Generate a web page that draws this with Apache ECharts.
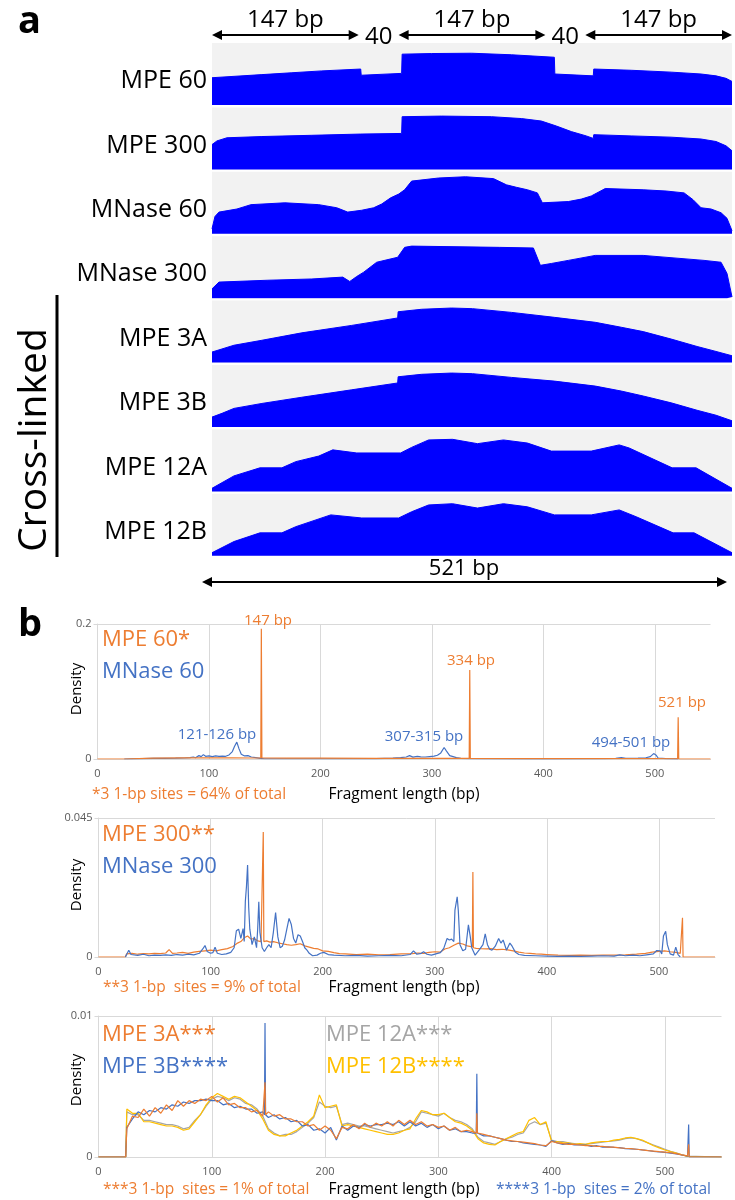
<!DOCTYPE html>
<html>
<head>
<meta charset="utf-8">
<script src="https://cdn.jsdelivr.net/npm/echarts@6/dist/echarts.min.js"></script>
<style>
  html, body { margin: 0; padding: 0; background: #fff; }
  #main { width: 735px; height: 1200px; }
</style>
</head>
<body>
<div id="main"></div>
<script>
// ---- panel a: coverage profiles, [bp, % of track height] ----
var trackNames = ['MPE 60', 'MPE 300', 'MNase 60', 'MNase 300', 'MPE 3A', 'MPE 3B', 'MPE 12A', 'MPE 12B']

var mpe60Track = [[0,44],[20,46],[50,49],[80,52],[110,55],[149,58],[149.5,48],[190,51],[190.5,82],[220,83],[260,83.5],[300,81],[343,77],[343.5,50],[382,47],[382.5,58],[420,56],[460,53],[490,50],[505,47],[515,43],[521,38]]
var mpe300Track = [[0,40],[5,46],[15,51],[50,53],[100,55],[149,57],[149.5,54],[190,58],[190.5,85],[230,86],[280,85],[310,82],[330,78],[345,70],[360,61],[375,54],[382,50],[382.5,56],[420,54],[460,52],[490,49],[505,45],[515,38],[521,30]]
var mnase60Track = [[0,8],[3,28],[7,35],[25,40],[39,47],[73,50],[107,47],[125,42],[136,35],[150,38],[162,42],[170,48],[179,58],[187,64],[193,71],[200,85],[227,90],[254,92],[282,89],[295,79],[305,75],[316,71],[326,66],[331,50],[357,52],[370,56],[380,61],[394,73],[432,71],[455,69],[473,66],[482,55],[490,42],[500,40],[510,34],[516,25],[521,5]]
var mnase300Track = [[0,15],[7,26],[56,29],[100,31],[131,34],[138,27],[145,35],[152,42],[165,58],[186,66],[193,82],[200,84],[288,82],[322,81],[329,53],[340,56],[357,61],[384,69],[432,69],[493,61],[510,58],[516,40],[521,2]]
var mpe3ATrack = [[0,17],[10,22],[22,28],[50,36],[90,48],[140,60],[186,72],[186.5,82],[210,86],[240,88],[261,87],[300,81],[343,73],[384,65],[410,57],[432,50],[460,38],[486,26],[505,18],[521,11]]
var mpe3BTrack = [[0,16],[10,22],[22,30],[50,38],[90,48],[140,60],[186,71],[186.5,81],[210,85],[240,87],[261,86],[300,80],[343,74],[384,66],[410,58],[432,50],[460,39],[486,27],[505,19],[521,10]]
var mpe12ATrack = [[0,5],[22,25],[48,38],[70,38],[84,48],[107,57],[121,67],[145,62],[189,62],[200,71],[217,83],[241,84],[266,77],[292,83],[316,78],[340,65],[380,65],[408,75],[418,70],[461,38],[485,38],[521,5]]
var mpe12BTrack = [[0,5],[22,23],[48,37],[70,37],[84,47],[119,66],[150,61],[187,61],[200,71],[217,82],[241,84],[266,77],[292,84],[316,79],[343,66],[380,66],[408,74],[425,63],[462,37],[483,37],[521,5]]

// nucleosome / linker segments drawn as arrows above the tracks (bp)
var segments = [[0,147,'147 bp'],[187,334,'147 bp'],[374,521,'147 bp']]
var linkers = [[167,'40'],[354,'40']]

// ---- panel b, chart 1: MPE 60 vs MNase 60, [length, density] ----
var mpe60Density = [[0,0],[24,0],[25,0.0012],[50,0.0014],[80,0.0016],[100,0.0017],[120,0.0016],[140,0.0015],[146.5,0.0015],[147,0.193],[147.5,0.0015],[170,0.0012],[200,0.0012],[250,0.0010],[300,0.0008],[333.5,0.0008],[334,0.132],[334.5,0.0008],[380,0.0006],[450,0.0005],[500,0.0005],[520.5,0.0004],[521,0.062],[521.5,0],[550,0]]
var mnase60Density = [[24,0],[25,0.0004],[40,0.0006],[50,0.0008],[60,0.0010],[70,0.0012],[78,0.0015],[83,0.0020],[86,0.0030],[88,0.0018],[91,0.0050],[93,0.0035],[95,0.0065],[97,0.0040],[100,0.0045],[103,0.0035],[106,0.0045],[109,0.0038],[112,0.0044],[115,0.0040],[118,0.0060],[121,0.0110],[123,0.0190],[125,0.0250],[127,0.0150],[129,0.0070],[132,0.0045],[135,0.0050],[138,0.0030],[142,0.0020],[146,0.0008],[150,0.0004],[200,0.0004],[250,0.0005],[265,0.0012],[272,0.0020],[277,0.0030],[280,0.0050],[283,0.0028],[287,0.0040],[290,0.0032],[294,0.0030],[298,0.0036],[302,0.0042],[305,0.0055],[308,0.0090],[311,0.0170],[313,0.0120],[316,0.0050],[319,0.0035],[322,0.0020],[326,0.0008],[335,0.0004],[400,0.0003],[455,0.0006],[465,0.0010],[470,0.0022],[474,0.0010],[485,0.0012],[492,0.0018],[496,0.0035],[499,0.0080],[501,0.0060],[503,0.0015],[510,0.0006],[520,0.0002],[521,0]]

// ---- panel b, chart 2: MPE 300 vs MNase 300 ----
var mpe300Density = [[0,0],[24,0],[25,0.0010],[30,0.0012],[35,0.0009],[40,0.0011],[45,0.0010],[50,0.0012],[55,0.0011],[60,0.0013],[63,0.0024],[66,0.0012],[70,0.0013],[75,0.0015],[80,0.0012],[85,0.0016],[90,0.0018],[95,0.0020],[100,0.0022],[105,0.0020],[110,0.0024],[115,0.0027],[120,0.0034],[124,0.0045],[127,0.0050],[130,0.0062],[133,0.0068],[136,0.0058],[139,0.0060],[142,0.0052],[145,0.0050],[146.5,0.0048],[147,0.0405],[147.5,0.0050],[150,0.0052],[153,0.0048],[156,0.0050],[160,0.0046],[164,0.0043],[168,0.0040],[172,0.0038],[176,0.0040],[180,0.0043],[184,0.0036],[188,0.0032],[192,0.0028],[196,0.0026],[200,0.0020],[205,0.0018],[210,0.0014],[215,0.0011],[220,0.0010],[230,0.0008],[240,0.0009],[250,0.0007],[260,0.0008],[270,0.0010],[280,0.0011],[285,0.0013],[290,0.0012],[295,0.0015],[300,0.0017],[305,0.0016],[309,0.0026],[313,0.0030],[317,0.0038],[321,0.0045],[325,0.0042],[329,0.0036],[333.5,0.0033],[334,0.0275],[334.5,0.0030],[337,0.0028],[341,0.0027],[346,0.0026],[350,0.0027],[355,0.0024],[360,0.0025],[365,0.0023],[370,0.0020],[375,0.0016],[380,0.0013],[385,0.0012],[390,0.0010],[395,0.0009],[400,0.0008],[410,0.0006],[420,0.0005],[430,0.0006],[440,0.0005],[450,0.0006],[460,0.0006],[470,0.0007],[480,0.0009],[488,0.0012],[494,0.0016],[500,0.0018],[505,0.0020],[510,0.0017],[515,0.0015],[519,0.0012],[520.5,0.0006],[521,0.0127],[521.5,0],[550,0]]
var mnase300Density = [[24,0],[25,0.0006],[27,0.0022],[29,0.0008],[35,0.0005],[40,0.0009],[45,0.0004],[50,0.0006],[55,0.0005],[60,0.0007],[65,0.0005],[70,0.0008],[75,0.0006],[80,0.0009],[85,0.0007],[90,0.0012],[93,0.0026],[95,0.0037],[97,0.0018],[100,0.0012],[102,0.0014],[104,0.0032],[106,0.0012],[110,0.0008],[114,0.0010],[118,0.0015],[121,0.0030],[123,0.0085],[125,0.0090],[127,0.0060],[129,0.0092],[130,0.0050],[131,0.0180],[132,0.0228],[133,0.0298],[134,0.0160],[135,0.0090],[137,0.0040],[139,0.0065],[141,0.0030],[142,0.0090],[143,0.0179],[144,0.0080],[146,0.0030],[148,0.0018],[150,0.0030],[152,0.0040],[154,0.0030],[156,0.0080],[158,0.0144],[160,0.0065],[162,0.0030],[164,0.0035],[166,0.0055],[168,0.0090],[170,0.0125],[172,0.0105],[174,0.0060],[176,0.0045],[178,0.0072],[180,0.0068],[182,0.0050],[184,0.0030],[186,0.0022],[188,0.0012],[191,0.0004],[195,0.0006],[198,0.0012],[201,0.0015],[205,0.0008],[210,0.0006],[220,0.0004],[230,0.0005],[240,0.0003],[250,0.0004],[260,0.0005],[270,0.0004],[278,0.0008],[281,0.0020],[284,0.0009],[288,0.0012],[290,0.0017],[293,0.0009],[297,0.0006],[301,0.0010],[305,0.0014],[308,0.0028],[311,0.0060],[313,0.0055],[315,0.0058],[317,0.0050],[318,0.0152],[320,0.0195],[321,0.0150],[322.5,0.0040],[325,0.0020],[327.5,0.0025],[330,0.0104],[331.5,0.0070],[333,0.0030],[336,0.0006],[340,0.0025],[343,0.0040],[345,0.0075],[347,0.0040],[349,0.0025],[351,0.0022],[354,0.0035],[357,0.0060],[359,0.0045],[361,0.0055],[364,0.0022],[367,0.0045],[369,0.0035],[372,0.0015],[375,0.0008],[380,0.0005],[390,0.0004],[400,0.0003],[410,0.0002],[420,0.0003],[430,0.0002],[440,0.0003],[450,0.0004],[460,0.0003],[465,0.0007],[470,0.0004],[477,0.0006],[483,0.0004],[489,0.0007],[495,0.0010],[498,0.0021],[501,0.0020],[502.5,0.0010],[504,0.0068],[506,0.0083],[507.5,0.0040],[510,0.0010],[513,0.0006],[515,0.0032],[517,0.0008],[519,0]]

// ---- panel b, chart 3: cross-linked, read every 5 bp from 25 to 520 ----
var lenStart = 25, lenStep = 5
var mpe3AValues = [
  0.0020,0.0029,0.0028,0.0034,0.0029,0.0035,0.0031,0.0037,0.0033,0.0040,
  0.0036,0.0040,0.0038,0.0041,0.0040,0.0043,0.0039,0.0042,0.0037,0.0038,
  0.0035,0.0035,0.0032,0.0033,0.0029,0.0032,0.0029,0.0030,0.0027,0.0027,
  0.0025,0.0025,0.0022,0.0023,0.0019,0.0022,0.0019,0.0013,0.0021,0.0020,
  0.0023,0.0020,0.0024,0.0021,0.0024,0.0022,0.0025,0.0022,0.0026,0.0023,
  0.0026,0.0023,0.0025,0.0022,0.0023,0.0021,0.0022,0.0019,0.0021,0.0018,
  0.0019,0.0018,0.0016,0.0016,0.0015,0.0014,0.0013,0.0012,0.00115,0.0011,
  0.00105,0.0010,0.00095,0.00085,0.0008,0.0011,0.0010,0.00095,0.0009,0.0009,
  0.00085,0.0008,0.0008,0.00075,0.00075,0.0007,0.0007,0.00065,0.00062,0.0006,
  0.00055,0.0005,0.00045,0.00042,0.00038,0.00035,0.0003,0.00024,0.00015,0.00008]
var mpe3BValues = [
  0.0021,0.0027,0.0032,0.0030,0.0033,0.0032,0.0035,0.0034,0.0037,0.0036,
  0.0039,0.0038,0.0040,0.0040,0.0041,0.0040,0.0040,0.0037,0.0038,0.0035,
  0.0036,0.0034,0.0034,0.0031,0.0032,0.0028,0.0030,0.0027,0.0028,0.0025,
  0.0026,0.0022,0.0023,0.0019,0.0020,0.0017,0.0021,0.0012,0.0022,0.0019,
  0.0022,0.0021,0.0023,0.0022,0.0023,0.0023,0.0024,0.0023,0.0025,0.0022,
  0.0025,0.0022,0.0024,0.0021,0.0023,0.0020,0.0022,0.0019,0.0020,0.0018,
  0.0018,0.0017,0.0016,0.0015,0.0015,0.0014,0.0013,0.0012,0.0011,0.0011,
  0.0010,0.00095,0.0009,0.00085,0.00075,0.00115,0.0010,0.0009,0.00095,0.00085,
  0.00085,0.00085,0.00075,0.0008,0.0007,0.00072,0.00068,0.00066,0.0006,0.00058,
  0.00055,0.0005,0.00046,0.0004,0.00036,0.00033,0.00028,0.00022,0.00014,0.00006]
var mpe12AValues = [
  0.0032,0.0030,0.0030,0.0026,0.0026,0.0025,0.0024,0.0023,0.0023,0.0022,
  0.0020,0.0021,0.0026,0.0030,0.0036,0.0041,0.0043,0.0042,0.0040,0.0042,
  0.0041,0.0038,0.0037,0.0034,0.0029,0.0020,0.0017,0.0015,0.0016,0.0016,
  0.0018,0.0021,0.0024,0.0028,0.0039,0.0036,0.0035,0.0036,0.0023,0.0024,
  0.0023,0.0022,0.0022,0.0021,0.0020,0.0019,0.0018,0.0017,0.0018,0.0019,
  0.0021,0.0025,0.0032,0.0031,0.0030,0.0029,0.0031,0.0028,0.0026,0.0025,
  0.0023,0.0020,0.0014,0.0011,0.0010,0.0009,0.0011,0.0013,0.0014,0.0016,
  0.0017,0.0023,0.0025,0.0023,0.0024,0.0012,0.0011,0.0011,0.0010,0.00095,
  0.0009,0.0009,0.00095,0.0010,0.00105,0.0011,0.00115,0.0012,0.0013,0.00135,
  0.0013,0.00115,0.0010,0.00085,0.0007,0.00055,0.0004,0.0003,0.00016,0.00006]
var mpe12BValues = [
  0.0034,0.0031,0.0031,0.0025,0.0025,0.0024,0.0023,0.0022,0.0022,0.0021,
  0.0019,0.0020,0.0025,0.0030,0.0037,0.0042,0.0045,0.0043,0.0041,0.0043,
  0.0042,0.0039,0.0036,0.0033,0.0027,0.0019,0.0016,0.0015,0.0015,0.0017,
  0.0019,0.0022,0.0025,0.0029,0.0044,0.0035,0.0036,0.0037,0.0022,0.0023,
  0.0022,0.0021,0.0020,0.0019,0.0018,0.0017,0.0016,0.0016,0.0017,0.0019,
  0.0020,0.0027,0.0033,0.0032,0.0030,0.0030,0.0031,0.0028,0.0025,0.0024,
  0.0022,0.0019,0.0013,0.0010,0.0009,0.00085,0.0011,0.0013,0.0015,0.0017,
  0.0018,0.0026,0.0028,0.0023,0.0025,0.0011,0.0011,0.0010,0.0010,0.0009,
  0.00095,0.0009,0.0010,0.00105,0.0011,0.0011,0.0012,0.00125,0.00135,0.0014,
  0.0013,0.0012,0.0010,0.0008,0.00065,0.0005,0.00038,0.00028,0.00015,0.00005]
// zero stretches and the three 1-bp sites
var mpe3AExtra = [[0,0],[24,0],[146.5,0.0030],[147,0.0053],[147.5,0.0030],[333.5,0.0017],[334,0.0031],[334.5,0.0017],[520.5,0.0001],[521,0.0009],[521.5,0],[550,0]]
var mpe3BExtra = [[0,0],[24,0],[146.5,0.0030],[147,0.0095],[147.5,0.0030],[333.5,0.0017],[334,0.0059],[334.5,0.0017],[520.5,0.0001],[521,0.0023],[521.5,0],[550,0]]
var mpe12AExtra = [[0,0],[24,0],[521,0],[550,0]]
var mpe12BExtra = [[0,0],[24,0],[521,0],[550,0]]

var ORANGE = '#ed7d31', BLUE = '#4472c4', GRAY = '#a5a5a5', YELLOW = '#ffc000'
var FONT = "'Open Sans', 'Noto Sans', sans-serif"

function withGrid (values, extra) {
  var pts = values.map(function (v, i) { return [lenStart + i * lenStep, v] }).concat(extra)
  pts.sort(function (a, b) { return a[0] - b[0] })
  return pts
}

var chart = echarts.init(document.getElementById('main'))

var grids = [], xAxes = [], yAxes = [], series = []
var tracks = [mpe60Track, mpe300Track, mnase60Track, mnase300Track, mpe3ATrack, mpe3BTrack, mpe12ATrack, mpe12BTrack]
var trackTop = 43, trackPitch = 64.4, trackH = 62

tracks.forEach(function (prof, i) {
  grids.push({left: 212, width: 520, top: trackTop + i * trackPitch, height: trackH, show: true, backgroundColor: '#f2f2f2', borderWidth: 0})
  xAxes.push({gridIndex: i, type: 'value', min: 0, max: 521, show: false})
  yAxes.push({gridIndex: i, type: 'value', min: 0, max: 100, show: false})
  series.push({
    type: 'line', xAxisIndex: i, yAxisIndex: i, data: prof, symbol: 'none', silent: true,
    lineStyle: {color: '#0000ff', width: 1}, areaStyle: {color: '#0000ff', opacity: 1}
  })
})

// density charts
function densityChart (box, yMax, lines) {
  var gi = grids.length
  grids.push({left: box.left, width: box.width, top: box.top, height: box.height})
  xAxes.push({
    gridIndex: gi, type: 'value', min: 0, max: 550, interval: 100,
    axisLine: {show: true, lineStyle: {color: '#d9d9d9', width: 1}},
    axisTick: {show: false},
    axisLabel: {color: '#595959', fontSize: 11, fontFamily: FONT, margin: 9, showMaxLabel: false},
    splitLine: {show: true, showMaxLine: false, lineStyle: {color: '#d9d9d9', width: 1}}
  })
  yAxes.push({
    gridIndex: gi, type: 'value', min: 0, max: yMax, interval: yMax,
    axisLine: {show: true, lineStyle: {color: '#d9d9d9', width: 1}},
    axisTick: {show: true, length: 4, lineStyle: {color: '#d9d9d9'}},
    axisLabel: {color: '#595959', fontSize: 11, fontFamily: FONT, margin: 6},
    splitLine: {show: true, lineStyle: {color: '#d9d9d9', width: 1}}
  })
  lines.forEach(function (l) {
    series.push({
      type: 'line', xAxisIndex: gi, yAxisIndex: gi, data: l.data, symbol: 'none', silent: true,
      lineStyle: {color: l.color, width: 1.2}
    })
  })
}

densityChart({left: 97.5, width: 613, top: 624, height: 135}, 0.2, [
  {data: mnase60Density, color: BLUE},
  {data: mpe60Density, color: ORANGE}
])
densityChart({left: 98.5, width: 616.5, top: 818, height: 139}, 0.045, [
  {data: mpe300Density, color: ORANGE},
  {data: mnase300Density, color: BLUE}
])
densityChart({left: 98.5, width: 623, top: 1016, height: 141}, 0.01, [
  {data: withGrid(mpe12AValues, mpe12AExtra), color: GRAY},
  {data: withGrid(mpe12BValues, mpe12BExtra), color: YELLOW},
  {data: withGrid(mpe3BValues, mpe3BExtra), color: BLUE},
  {data: withGrid(mpe3AValues, mpe3AExtra), color: ORANGE}
])

chart.setOption({
  animation: false,
  backgroundColor: '#fff',
  grid: grids,
  xAxis: xAxes,
  yAxis: yAxes,
  series: series
})

// ---- annotations ----
function txt (s, x, y, size, color, align, extra) {
  var o = {type: 'text', silent: true, x: x, y: y, style: {
    text: s, fill: color || '#000', font: (extra && extra.weight ? extra.weight + ' ' : '') + size + 'px ' + FONT,
    textAlign: align || 'left', textVerticalAlign: 'middle'}}
  if (extra && extra.rotation) o.rotation = extra.rotation
  return o
}
function arrow (x1, x2, y) {
  return [
    {type: 'line', silent: true, shape: {x1: x1 + 5, y1: y, x2: x2 - 5, y2: y}, style: {stroke: '#000', lineWidth: 2}},
    {type: 'polygon', silent: true, shape: {points: [[x1, y], [x1 + 10, y - 5], [x1 + 10, y + 5]]}, style: {fill: '#000'}},
    {type: 'polygon', silent: true, shape: {points: [[x2, y], [x2 - 10, y - 5], [x2 - 10, y + 5]]}, style: {fill: '#000'}}
  ]
}
var px = function (bp) { return chart.convertToPixel({gridIndex: 0}, [bp, 0])[0] }

var g = []
g.push(txt('a', 18, 22, 38, '#000', 'left', {weight: 'bold'}))
g.push(txt('b', 18, 625, 38, '#000', 'left', {weight: 'bold'}))
segments.forEach(function (s) {
  g = g.concat(arrow(px(s[0]), px(s[1]), 35))
  g.push(txt(s[2], (px(s[0]) + px(s[1])) / 2, 20, 24, '#000', 'center'))
})
linkers.forEach(function (l) { g.push(txt(l[1], px(l[0]), 37, 24, '#000', 'center')) })
trackNames.forEach(function (n, i) {
  g.push(txt(n, 207, trackTop + i * trackPitch + trackH / 2 + 7, 25, '#000', 'right'))
})
g = g.concat(arrow(202, 727, 582))
g.push(txt('521 bp', 464, 569, 22, '#000', 'center'))
g.push(txt('Cross-linked', 35, 440, 39, '#000', 'center', {rotation: Math.PI / 2}))
g.push({type: 'line', silent: true, shape: {x1: 57, y1: 295, x2: 57, y2: 557}, style: {stroke: '#000', lineWidth: 3}})

// chart 1
g.push(txt('MPE 60*', 102, 640, 22, ORANGE))
g.push(txt('MNase 60', 102, 672, 22, BLUE))
g.push(txt('147 bp', 268, 621, 15, ORANGE, 'center'))
g.push(txt('334 bp', 471, 661, 15, ORANGE, 'center'))
g.push(txt('521 bp', 682, 703, 15, ORANGE, 'center'))
g.push(txt('121-126 bp', 217, 735, 15, BLUE, 'center'))
g.push(txt('307-315 bp', 424, 737, 15, BLUE, 'center'))
g.push(txt('494-501 bp', 631, 743, 15, BLUE, 'center'))
g.push(txt('Density', 77, 689, 15, '#000', 'center', {rotation: Math.PI / 2}))
g.push(txt('*3 1-bp sites = 64% of total', 92, 795, 15.5, ORANGE))
g.push(txt('Fragment length (bp)', 404, 795, 15.5, '#000', 'center'))
// chart 2
g.push(txt('MPE 300**', 102, 835, 22, ORANGE))
g.push(txt('MNase 300', 102, 867, 22, BLUE))
g.push(txt('Density', 77, 885, 15, '#000', 'center', {rotation: Math.PI / 2}))
g.push(txt('**3 1-bp  sites = 9% of total', 103, 988, 15.5, ORANGE))
g.push(txt('Fragment length (bp)', 404, 988, 15.5, '#000', 'center'))
// chart 3
g.push(txt('MPE 3A***', 102, 1035, 22, ORANGE))
g.push(txt('MPE 3B****', 102, 1067, 22, BLUE))
g.push(txt('MPE 12A***', 326, 1035, 22, GRAY))
g.push(txt('MPE 12B****', 326, 1067, 22, YELLOW))
g.push(txt('Density', 77, 1080, 15, '#000', 'center', {rotation: Math.PI / 2}))
g.push(txt('***3 1-bp  sites = 1% of total', 103, 1190, 15.5, ORANGE))
g.push(txt('Fragment length (bp)', 404, 1190, 15.5, '#000', 'center'))
g.push(txt('****3 1-bp  sites = 2% of total', 496, 1190, 15.5, BLUE))

chart.setOption({graphic: g})
</script>
</body>
</html>
